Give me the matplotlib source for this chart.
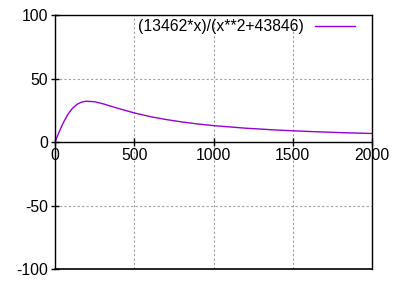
import numpy as np
from matplotlib import pyplot as plt

plt.rcParams['font.family'] = ['Liberation Sans', 'DejaVu Sans']
plt.rcParams['axes.unicode_minus'] = False

# values
x_vals = [0, 20, 40, 60, 80, 100, 120, 140, 160, 180, 200, 250, 300, 400,
          500, 600, 700, 800, 900, 1000, 1200, 1400, 1600, 1800, 2000]
y_vals = [0, 6.1, 11.9, 17.0, 21.4, 25.0, 27.7, 29.7, 31.0, 31.8, 32.1, 31.7, 30.2, 26.4,
          22.9, 20.0, 17.7, 15.8, 14.2, 12.9, 10.9, 9.4, 8.3, 7.4, 6.7]
label = '(13462*x)/(x**2+43846)'
x_ticks = [0, 500, 1000, 1500, 2000]
y_ticks = [-100, -50, 0, 50, 100]

fig = plt.figure(figsize=(4, 3), dpi=100)
ax = fig.add_axes([0.1375, 0.1033, 0.7925, 0.8467])
ax.plot(x_vals, y_vals, color='#9400D3', lw=1, label=label)
ax.set_xlim(0, 2000)
ax.set_ylim(-100, 100)

ax.grid(True, color='#a0a0a0', linestyle=(0, (2, 2)), lw=0.8)
ax.set_axisbelow(True)

# x axis drawn through zero, plus bottom border
ax.spines['bottom'].set_position(('data', 0))
for s in ax.spines.values():
    s.set_linewidth(1)
ax.plot([0, 1], [0, 0], transform=ax.transAxes, color='k', lw=1.2, clip_on=False)

ax.set_xticks(x_ticks)
ax.set_yticks(y_ticks)
ax.tick_params(direction='inout', length=6, width=1, labelsize=11.3, pad=2)
ax.tick_params(axis='x', pad=1)

ax.legend(loc='upper right', bbox_to_anchor=(0.975, 1.02), frameon=False,
          markerfirst=False, handlelength=2.55, handletextpad=0.7,
          fontsize=11.3, borderaxespad=0.2)

plt.savefig('out.png')
